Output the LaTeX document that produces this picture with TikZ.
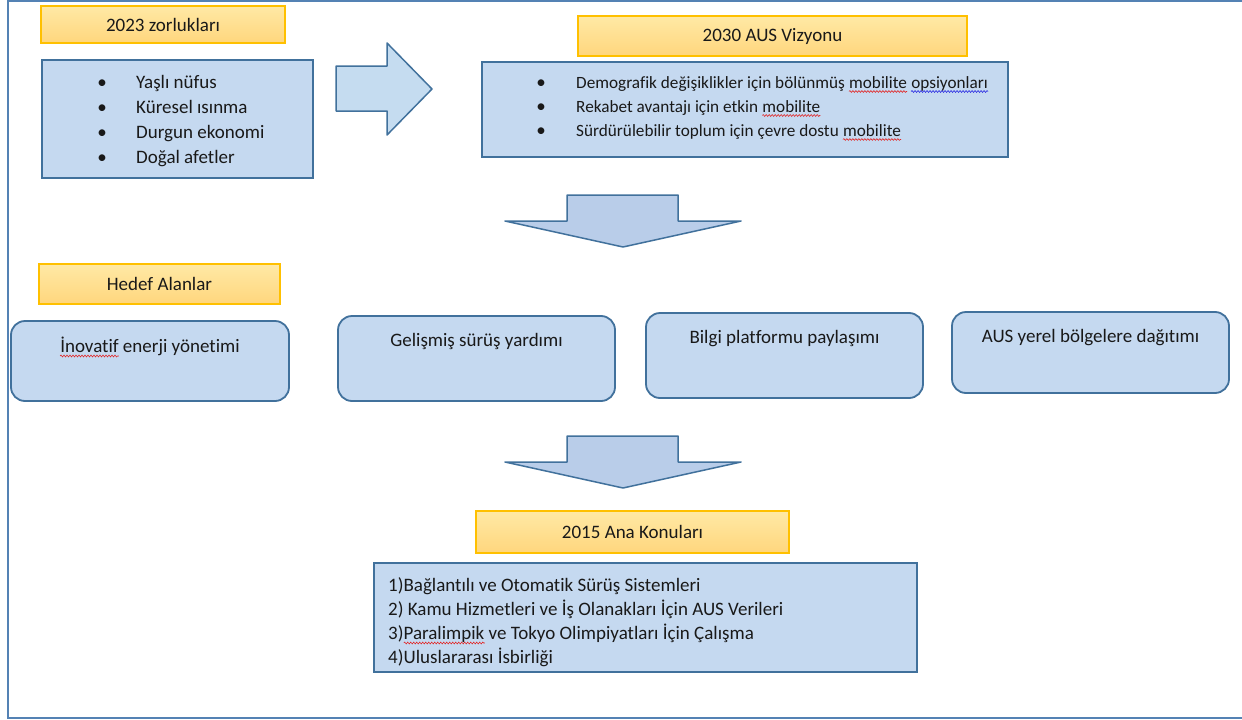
\documentclass[tikz,border=0pt]{standalone}
\usepackage{fontspec}
\setmainfont[Ligatures=NoCommon]{Carlito}
\usetikzlibrary{decorations.pathmorphing}
\definecolor{boxfill}{RGB}{197,217,240}
\definecolor{boxline}{RGB}{65,113,156}
\definecolor{arrfill}{RGB}{185,205,233}
\definecolor{rarrfill}{RGB}{197,220,240}
\definecolor{ytop}{RGB}{255,233,165}
\definecolor{ybot}{RGB}{255,214,125}
\definecolor{yline}{RGB}{255,192,0}
\definecolor{frameline}{RGB}{84,130,180}
\definecolor{txt}{RGB}{25,25,25}
\definecolor{spellred}{RGB}{225,40,40}
\definecolor{spellblue}{RGB}{40,40,225}
\begin{document}
\begin{tikzpicture}[x=1pt,y=-1pt,
  ybox/.style={draw=yline, line width=1.2pt, top color=ytop, bottom color=ybot, inner sep=0pt, text=txt, font=\fontsize{19}{23}\selectfont},
  bbox/.style={draw=boxline, line width=1.8pt, fill=boxfill, inner sep=0pt},
  rbox/.style={bbox, rounded corners=14pt},
  itemtext/.style={anchor=base west, inner sep=0pt, text=txt, font=\fontsize{19}{23}\selectfont},
  smalltext/.style={anchor=base west, inner sep=0pt, text=txt, font=\fontsize{17.2}{21}\selectfont},
  bul/.style={anchor=base, inner sep=0pt, text=txt, font=\fontsize{19}{23}\selectfont},
  boxtext/.style={anchor=base, inner sep=0pt, text=txt, font=\fontsize{19}{23}\selectfont},
  blockarrow/.style={draw=boxline, line width=1.5pt, line join=round},
  spell/.style={line width=0.6pt, decorate, decoration={snake, amplitude=0.9pt, segment length=3pt}}
]
\useasboundingbox (0,0) rectangle (1242,720);
\fill[white] (0,0) rectangle (1242,720);
% outer frame
\draw[frameline, line width=1.5pt] (1243,1) -- (8,1) -- (8,718) -- (1243,718);

% 2023 challenges
\node[ybox, minimum width=244pt, minimum height=37pt] (h2023) at (163,24.5) {2023 zorlukları};
\node[bbox, minimum width=271pt, minimum height=118pt] (chal) at (177.5,119) {};
\node[bul] (cb1) at (102,88) {•};
\node[bul] (cb2) at (102,113) {•};
\node[bul] (cb3) at (102,138) {•};
\node[bul] (cb4) at (102,163) {•};
\node[itemtext] (c1) at (136,88) {Yaşlı nüfus};
\node[itemtext] (c2) at (136,113) {Küresel ısınma};
\node[itemtext] (c3) at (136,138) {Durgun ekonomi};
\node[itemtext] (c4) at (136,163) {Doğal afetler};

% right block arrow
\draw[blockarrow, fill=rarrfill] (336,66) -- (387,66) -- (387,43) -- (432,89) -- (387,135) -- (387,111) -- (336,111) -- cycle;

% 2030 vision
\node[ybox, minimum width=389pt, minimum height=40pt] (h2030) at (772.5,36) {2030 AUS Vizyonu};
\node[bbox, minimum width=526pt, minimum height=95pt] (vis) at (745,109.5) {};
\node[bul] (vb1) at (541,88) {•};
\node[bul] (vb2) at (541,112) {•};
\node[bul] (vb3) at (541,136) {•};
\node[smalltext] (v1a) at (576,88) {Demografik değişiklikler için bölünmüş\kern0.226em};
\node[smalltext] (v1b) at (v1a.base east) {mobilite\kern0.226em};
\node[smalltext] (v1d) at (v1b.base east) {opsiyonları};
\node[smalltext] (v2a) at (576,112) {Rekabet avantajı için etkin\kern0.226em};
\node[smalltext] (v2b) at (v2a.base east) {mobilite};
\node[smalltext] (v3a) at (576,136) {Sürdürülebilir toplum için çevre dostu\kern0.226em};
\node[smalltext] (v3b) at (v3a.base east) {mobilite};
\draw[spell, spellred] ([yshift=-3.5pt]v1b.base west) -- ([yshift=-3.5pt,xshift=-3.9pt]v1b.base east);
\draw[spell, spellblue] ([yshift=-3.5pt]v1d.base west) -- ([yshift=-3.5pt]v1d.base east);
\draw[spell, spellred] ([yshift=-3.5pt]v2b.base west) -- ([yshift=-3.5pt]v2b.base east);
\draw[spell, spellred] ([yshift=-3.5pt]v3b.base west) -- ([yshift=-3.5pt]v3b.base east);

% down block arrow 1
\draw[blockarrow, fill=arrfill] (567,195) -- (678,195) -- (678,221) -- (741,221) -- (623,247) -- (505,221) -- (567,221) -- cycle;

% target areas
\node[ybox, minimum width=241pt, minimum height=40pt] (hhedef) at (159.5,284) {Hedef Alanlar};
\node[rbox, minimum width=278pt, minimum height=80pt] (t1) at (150,361) {};
\node[rbox, minimum width=277pt, minimum height=85pt] (t2) at (476.5,358.5) {};
\node[rbox, minimum width=277pt, minimum height=85pt] (t3) at (784.5,355.5) {};
\node[rbox, minimum width=277pt, minimum height=81pt] (t4) at (1090.5,352.5) {};
\node[boxtext] (t1txt) at (150,352) {İnovatif enerji yönetimi};
\node[itemtext] (t1w) at (t1txt.base west) {\phantom{İnovatif}};
\draw[spell, spellred] ([yshift=-4pt]t1w.base west) -- ([yshift=-4pt]t1w.base east);
\node[boxtext] (t2txt) at (476.5,346) {Gelişmiş sürüş yardımı};
\node[boxtext] (t3txt) at (784.5,343) {Bilgi platformu paylaşımı};
\node[boxtext] (t4txt) at (1090.5,342) {AUS yerel bölgelere dağıtımı};

% down block arrow 2
\draw[blockarrow, fill=arrfill] (567,436) -- (678,436) -- (678,462) -- (741,462) -- (623,488) -- (505,462) -- (567,462) -- cycle;

% 2015 main topics
\node[ybox, minimum width=313pt, minimum height=42pt] (h2015) at (632.5,532) {2015 Ana Konuları};
\node[bbox, minimum width=543pt, minimum height=109pt] (topics) at (645.5,617.5) {};
\node[itemtext] (k1) at (388,591) {1)Bağlantılı ve Otomatik Sürüş Sistemleri};
\node[itemtext] (k2) at (388,615) {2) Kamu Hizmetleri ve İş Olanakları İçin AUS Verileri};
\node[itemtext] (k3) at (388,639) {3)Paralimpik ve Tokyo Olimpiyatları İçin Çalışma};
\node[itemtext] (k3p) at (k3.base west) {\phantom{3)}};
\node[itemtext] (k3w) at (k3p.base east) {\phantom{Paralimpik}};
\node[itemtext] (k4) at (388,663) {4)Uluslararası İsbirliği};
\draw[spell, spellred] ([yshift=-4pt]k3w.base west) -- ([yshift=-4pt]k3w.base east);
\end{tikzpicture}
\end{document}
